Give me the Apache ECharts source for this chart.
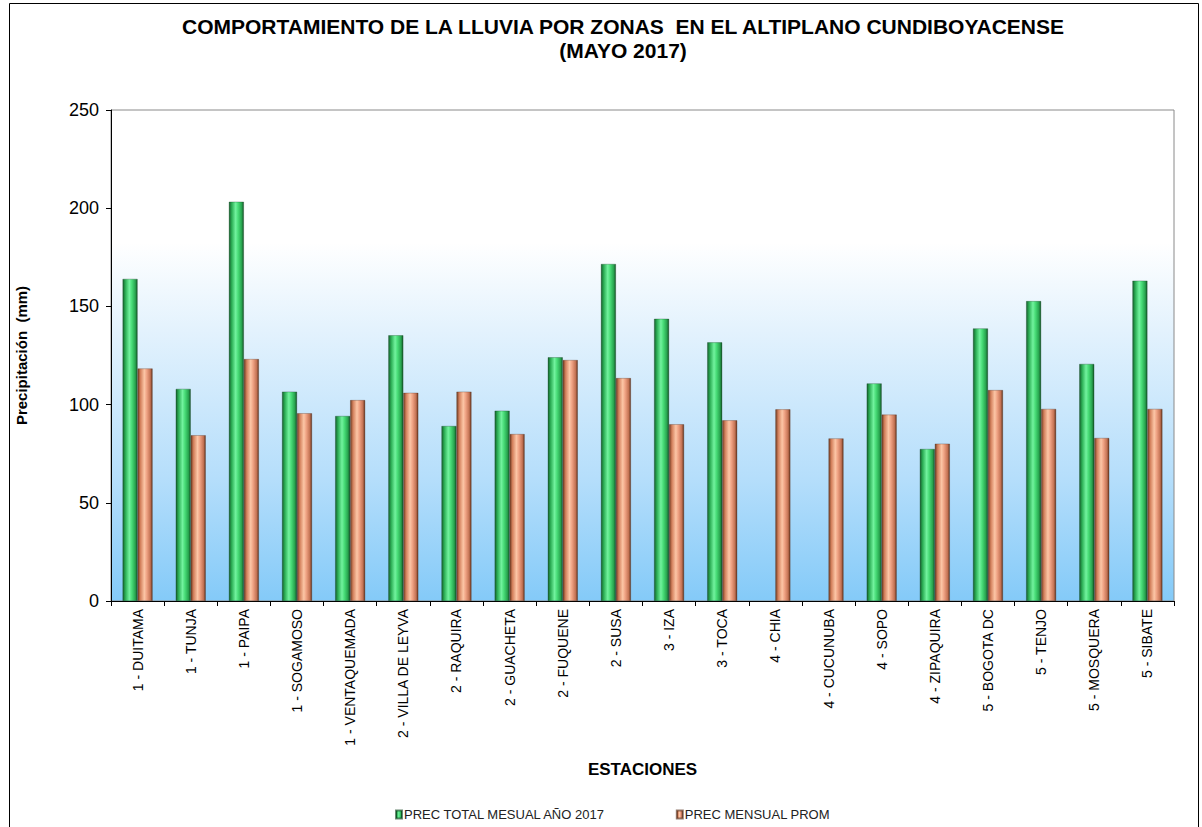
<!DOCTYPE html>
<html>
<head>
<meta charset="utf-8">
<script src="https://cdn.jsdelivr.net/npm/echarts@6/dist/echarts.min.js"></script>
<style>
  html, body { margin: 0; padding: 0; background: #fff; }
  #grafico { width: 1202px; height: 827px; }
</style>
</head>
<body>
<div id="grafico"></div>
<script>
var estaciones = ['1 - DUITAMA', '1 - TUNJA', '1 - PAIPA', '1 - SOGAMOSO', '1 - VENTAQUEMADA', '2 - VILLA DE LEYVA', '2 - RAQUIRA', '2 - GUACHETA', '2 - FUQUENE', '2 - SUSA', '3 - IZA', '3 - TOCA', '4 - CHIA', '4 - CUCUNUBA', '4 - SOPO', '4 - ZIPAQUIRA', '5 - BOGOTA DC', '5 - TENJO', '5 - MOSQUERA', '5 - SIBATE'];
var precTotal2017 = [164, 108, 203.3, 106.6, 94.2, 135.3, 89.1, 96.9, 124.1, 171.6, 143.7, 131.7, null, null, 110.8, 77.4, 138.8, 152.7, 120.7, 163.1];
var precPromedio = [118.4, 84.4, 123.2, 95.6, 102.3, 106, 106.6, 85, 122.7, 113.5, 90, 92, 97.6, 82.8, 94.9, 80.1, 107.4, 97.8, 83, 97.8];
var ticksY = [0, 50, 100, 150, 200, 250];

var chartDom = document.getElementById('grafico');
var myChart = echarts.init(chartDom, null, { renderer: 'svg' });
var option;

function cilindro(c) {
  return new echarts.graphic.LinearGradient(0, 0, 1, 0, [
    { offset: 0, color: c[0] },
    { offset: 0.18, color: c[1] },
    { offset: 0.45, color: c[2] },
    { offset: 0.62, color: c[3] },
    { offset: 0.86, color: c[4] },
    { offset: 1, color: c[5] }
  ]);
}
var verde = cilindro(['#16602d', '#2cae55', '#72f29e', '#48dc77', '#28a44f', '#145527']);
var naranja = cilindro(['#6e3b22', '#d3805c', '#fcc6a6', '#efa283', '#c47354', '#64351f']);

option = {
  backgroundColor: '#fff',
  textStyle: { fontFamily: 'Liberation Sans, Arial, sans-serif' },
  title: {
    text: 'COMPORTAMIENTO DE LA LLUVIA POR ZONAS  EN EL ALTIPLANO CUNDIBOYACENSE\n(MAYO 2017)',
    left: 618,
    top: 9,
    textAlign: 'center',
    textStyle: {
      fontSize: 21,
      fontWeight: 'bold',
      color: '#000',
      lineHeight: 24,
      fontFamily: 'Liberation Sans, Arial, sans-serif'
    }
  },
  legend: {
    left: 390,
    top: 803,
    itemWidth: 6,
    itemHeight: 8,
    itemGap: 70,
    icon: 'rect',
    textStyle: { fontSize: 13, color: '#222', padding: [0, 0, 0, -3] },
    data: ['PREC TOTAL MESUAL AÑO 2017', 'PREC MENSUAL PROM']
  },
  grid: {
    left: 111,
    right: 28,
    top: 110,
    bottom: 226,
    show: true,
    borderColor: '#8a8a8a',
    borderWidth: 1,
    backgroundColor: new echarts.graphic.LinearGradient(0, 0, 0, 1, [
      { offset: 0, color: '#ffffff' },
      { offset: 0.27, color: '#ffffff' },
      { offset: 0.45, color: '#e3f2fd' },
      { offset: 0.75, color: '#b5defb' },
      { offset: 1, color: '#84caf8' }
    ])
  },
  xAxis: {
    type: 'category',
    data: estaciones,
    name: 'ESTACIONES',
    nameLocation: 'middle',
    nameGap: 160,
    nameTextStyle: { fontSize: 17, fontWeight: 'bold', color: '#000' },
    axisLine: { lineStyle: { color: '#000', width: 1 } },
    axisTick: { show: true, length: 5, lineStyle: { color: '#000' } },
    axisLabel: { rotate: 90, fontSize: 14, color: '#000', interval: 0, margin: 8 },
    splitLine: { show: false }
  },
  yAxis: {
    type: 'value',
    min: 0,
    max: ticksY[ticksY.length - 1],
    interval: ticksY[1] - ticksY[0],
    name: 'Precipitación  (mm)',
    nameLocation: 'middle',
    nameGap: 82,
    nameTextStyle: { fontSize: 15, fontWeight: 'bold', color: '#000' },
    axisLine: { show: true, lineStyle: { color: '#000', width: 1 } },
    axisTick: { show: true, length: 5, inside: false, lineStyle: { color: '#000' } },
    axisLabel: { fontSize: 18, color: '#000', margin: 12 },
    splitLine: { show: false }
  },
  series: [
    {
      name: 'PREC TOTAL MESUAL AÑO 2017',
      type: 'bar',
      data: precTotal2017,
      barWidth: 15,
      barGap: '0%',
      itemStyle: { color: verde, borderColor: 'rgba(10,60,25,0.6)', borderWidth: 0.5 }
    },
    {
      name: 'PREC MENSUAL PROM',
      type: 'bar',
      data: precPromedio,
      barWidth: 15,
      barGap: '0%',
      itemStyle: { color: naranja, borderColor: 'rgba(80,40,20,0.6)', borderWidth: 0.5 }
    }
  ],
  graphic: [
    {
      type: 'rect',
      left: 7,
      top: 1,
      shape: { width: 1189, height: 824 },
      style: { fill: 'none', stroke: '#000', lineWidth: 1 },
      silent: true
    }
  ]
};

option && myChart.setOption(option);
</script>
</body>
</html>
